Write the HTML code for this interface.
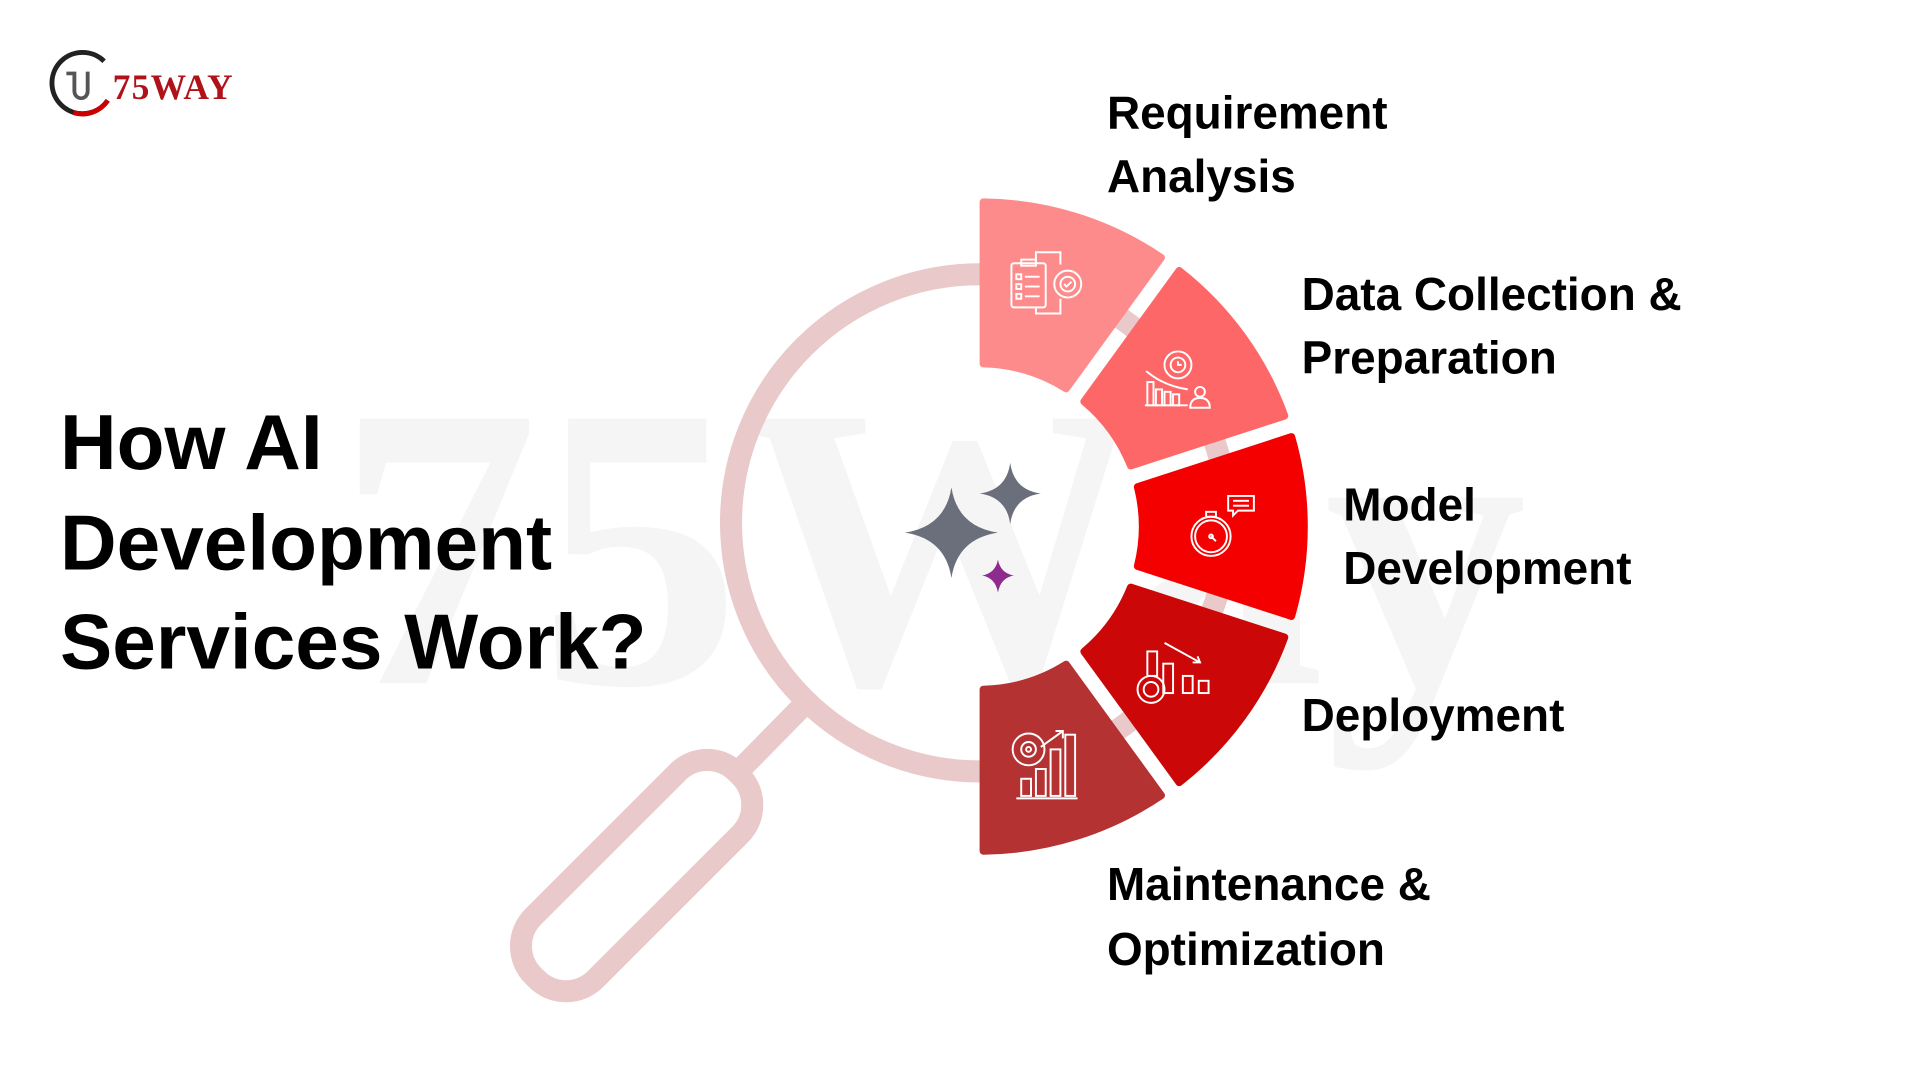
<!DOCTYPE html>
<html><head><meta charset="utf-8"><style>
html,body{margin:0;padding:0;background:#fff;}
svg{display:block;}
</style></head><body>
<svg width="1920" height="1080" viewBox="0 0 1568 882" xmlns="http://www.w3.org/2000/svg">
<rect width="1568" height="882" fill="#fff"/>
<!-- watermark -->
<text x="275" y="558" font-family="Liberation Serif, serif" font-weight="bold" font-size="330" fill="#f5f5f5">75Way</text>
<!-- magnifier -->
<g fill="none" stroke="#e9c9ca" stroke-width="18">
<circle cx="800" cy="427" r="203"/>
<line x1="660" y1="572" x2="605" y2="628"/>
<g transform="translate(603,632) rotate(135)"><rect x="0" y="-36" width="235" height="72" rx="34"/></g>
</g>
<!-- segments -->
<g stroke-width="6" stroke-linejoin="round">
<path d="M803,165 A265,265 0 0 1 948.4,210.4 L870.7,317.4 A133,133 0 0 0 803,297 Z" fill="#fd8b8b" stroke="#fd8b8b"/>
<path d="M963,221 A265,265 0 0 1 1049.1,339.6 L923.4,380.4 A133,133 0 0 0 885.3,327.9 Z" fill="#fe6767" stroke="#fe6767"/>
<path d="M1054.7,356.7 A265,265 0 0 1 1054.7,503.3 L929,462.4 A133,133 0 0 0 929,397.6 Z" fill="#f50000" stroke="#f50000"/>
<path d="M1049.1,520.4 A265,265 0 0 1 963,639 L885.3,532.1 A133,133 0 0 0 923.4,479.6 Z" fill="#cb0707" stroke="#cb0707"/>
<path d="M948.4,649.6 A265,265 0 0 1 803,695 L803,563 A133,133 0 0 0 870.7,542.6 Z" fill="#b53233" stroke="#b53233"/>
</g>
<!-- icons -->
<g fill="none" stroke="#fff" stroke-width="1.6">
<rect x="826" y="215" width="28" height="36" rx="2"/><rect x="834" y="212" width="12" height="5"/>
<rect x="830" y="224" width="4" height="4"/><line x1="837" y1="226" x2="849" y2="226"/>
<rect x="830" y="232" width="4" height="4"/><line x1="837" y1="234" x2="849" y2="234"/>
<rect x="830" y="240" width="4" height="4"/><line x1="837" y1="242" x2="849" y2="242"/>
<circle cx="872" cy="232" r="11"/><circle cx="872" cy="232" r="6"/><polyline points="869,232 871,234 875,230"/>
<polyline points="846,212 846,206 866,206 866,216"/><polyline points="846,251 846,256 866,256 866,244"/>
<circle cx="962" cy="298" r="11"/><circle cx="962" cy="298" r="6"/><polyline points="962,295 962,298 965,298"/>
<line x1="935" y1="331" x2="970" y2="331"/><rect x="937" y="312" width="5" height="19"/><rect x="944" y="318" width="5" height="13"/><rect x="951" y="320" width="5" height="11"/><rect x="958" y="322" width="5" height="9"/>
<path d="M936,303 Q950,315 970,318"/><circle cx="980" cy="320" r="4"/><path d="M972,333 Q972,325 980,325 Q988,325 988,333 Z"/>
<circle cx="989" cy="438" r="16"/><circle cx="989" cy="438" r="13"/><rect x="985" y="418" width="8" height="4"/><line x1="989" y1="438" x2="993" y2="442"/><circle cx="989" cy="438" r="1.5"/>
<path d="M1003,405 h21 v12 h-13 l-4,4 v-4 h-4 z"/><line x1="1007" y1="409" x2="1020" y2="409"/><line x1="1007" y1="413" x2="1020" y2="413"/>
<circle cx="940" cy="563" r="11"/><circle cx="940" cy="563" r="6"/>
<rect x="937" y="532" width="8" height="20"/><rect x="950" y="542" width="8" height="24"/><rect x="966" y="552" width="8" height="14"/><rect x="979" y="556" width="8" height="10"/>
<line x1="951" y1="525" x2="980" y2="541"/><polyline points="974,541 980,541 978,536"/>
<circle cx="840" cy="612" r="13"/><circle cx="840" cy="612" r="6"/><circle cx="840" cy="612" r="2"/>
<line x1="830" y1="652" x2="880" y2="652"/><rect x="834" y="636" width="8" height="14"/><rect x="846" y="628" width="8" height="22"/><rect x="858" y="612" width="8" height="38"/><rect x="870" y="600" width="8" height="50"/>
<line x1="850" y1="610" x2="868" y2="597"/><polyline points="862,597 868,597 868,603"/>
</g>
<!-- stars -->
<path d="M777,398 Q782,430 815,435 Q782,440 777,472 Q772,440 739,435 Q772,430 777,398 Z" fill="#6b6f7b"/>
<path d="M825,378 Q828,400 850,403 Q828,406 825,428 Q822,406 800,403 Q822,400 825,378 Z" fill="#6b6f7b"/>
<path d="M815,457 Q817,468 828,470 Q817,472 815,484 Q813,472 802,470 Q813,468 815,457 Z" fill="#8f2a8f"/>
<!-- logo -->
<path d="M85,50 A25,25 0 1 0 88,82" fill="none" stroke="#222" stroke-width="4"/>
<path d="M60,92 A25,25 0 0 0 88,82" fill="none" stroke="#c00" stroke-width="4"/>
<text x="54" y="81" font-family="Liberation Serif, serif" font-weight="bold" font-size="26" fill="#555">Ⴎ</text>
<text x="92" y="81" font-family="Liberation Serif, serif" font-weight="bold" font-size="29" letter-spacing="1" fill="#b0121a">75WAY</text>
<!-- title -->
<g font-family="Liberation Sans, sans-serif" font-weight="bold" fill="#000">
<text x="49" y="383" font-size="64">How AI</text>
<text x="49" y="465" font-size="64">Development</text>
<text x="49" y="546" font-size="64">Services Work?</text>
<g font-size="37.5">
<text x="904" y="105">Requirement</text>
<text x="904" y="157">Analysis</text>
<text x="1063" y="253">Data Collection &amp;</text>
<text x="1063" y="305">Preparation</text>
<text x="1097" y="425">Model</text>
<text x="1097" y="477">Development</text>
<text x="1063" y="597">Deployment</text>
<text x="904" y="735">Maintenance &amp;</text>
<text x="904" y="788">Optimization</text>
</g>
</g>
</svg>
</body></html>
